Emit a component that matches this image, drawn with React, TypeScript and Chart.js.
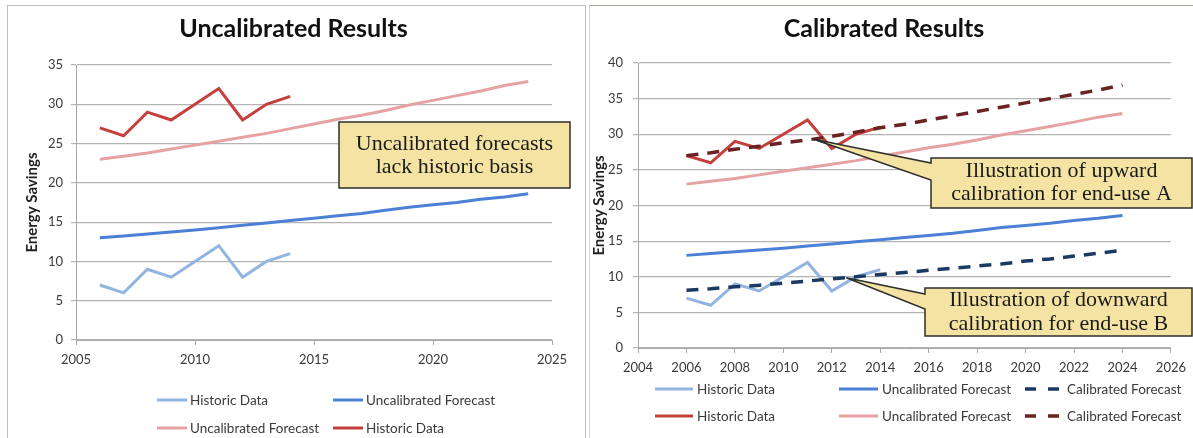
import React, { useEffect, useRef } from "react";
import { Chart, registerables } from "chart.js";

Chart.register(...registerables);

// ---------------- DATA ----------------
const historicYears = [2006, 2007, 2008, 2009, 2010, 2011, 2012, 2013, 2014];
const forecastYears = [
  2006, 2007, 2008, 2009, 2010, 2011, 2012, 2013, 2014, 2015,
  2016, 2017, 2018, 2019, 2020, 2021, 2022, 2023, 2024,
];

const historicA = [27, 26, 29, 28, 30, 32, 28, 30, 31];
const historicB = [7, 6, 9, 8, 10, 12, 8, 10, 11];

const uncalibratedA = [
  23.0, 23.4, 23.8, 24.3, 24.8, 25.3, 25.8, 26.3, 26.9, 27.5,
  28.1, 28.6, 29.2, 29.9, 30.5, 31.1, 31.7, 32.4, 32.9,
];
const uncalibratedB = [
  13.0, 13.25, 13.5, 13.75, 14.0, 14.3, 14.6, 14.9, 15.2, 15.5,
  15.8, 16.1, 16.5, 16.9, 17.2, 17.5, 17.9, 18.2, 18.6,
];
const calibratedA = [
  27.0, 27.4, 27.9, 28.3, 28.8, 29.2, 29.7, 30.3, 30.9, 31.4,
  32.0, 32.6, 33.2, 33.8, 34.4, 35.0, 35.6, 36.2, 36.9,
];
const calibratedB = [
  8.1, 8.3, 8.6, 8.8, 9.1, 9.4, 9.7, 10.0, 10.3, 10.6,
  10.9, 11.2, 11.5, 11.8, 12.2, 12.5, 12.9, 13.3, 13.7,
];

const leftXTicks = [2005, 2010, 2015, 2020, 2025];
const leftYTicks = [0, 5, 10, 15, 20, 25, 30, 35];
const rightXTicks = [2004, 2006, 2008, 2010, 2012, 2014, 2016, 2018, 2020, 2022, 2024, 2026];
const rightYTicks = [0, 5, 10, 15, 20, 25, 30, 35, 40];

const leftTitle = "Uncalibrated Results";
const rightTitle = "Calibrated Results";
const yAxisTitle = "Energy Savings";
const labelHistoric = "Historic Data";
const labelUncal = "Uncalibrated Forecast";
const labelCal = "Calibrated Forecast";

const leftNote = ["Uncalibrated forecasts", "lack historic basis"];
const upwardNote = ["Illustration of upward", "calibration for end-use A"];
const downwardNote = ["Illustration of downward", "calibration for end-use B"];
const upwardTip = [2011.25, 29.3];
const downwardTip = [2012.6, 9.85];

// ---------------- STYLE ----------------
const C = {
  histB: "#92b4e0",
  uncalB: "#4a80d6",
  calB: "#1b3a63",
  histA: "#c5403d",
  uncalA: "#e6a2a2",
  calA: "#6a2222",
  grid: "#b4b4b4",
  axis: "#a8a8a8",
  tick: "#3a3a3a",
  boxFill: "#f4e3a2",
  boxStroke: "#2e2e2e",
};
const SANS = "Lato, 'Open Sans', sans-serif";

type Series = { label: string; color: string; dashed?: boolean; xs: number[]; ys: number[] };

const toPoints = (xs: number[], ys: number[]) => xs.map((x, i) => ({ x, y: ys[i] }));

function makeDatasets(series: Series[]) {
  const n = series.length;
  return series.map((s, i) => ({
    label: s.label,
    data: toPoints(s.xs, s.ys),
    borderColor: s.color,
    backgroundColor: s.color,
    borderWidth: s.dashed ? 3.5 : 3,
    borderDash: s.dashed ? [12, 9] : [],
    pointRadius: 0,
    tension: 0,
    fill: false,
    order: n - i,
  }));
}

type Callout = {
  x1: number; y1: number; x2: number; y2: number;
  lines: string[]; baselines: number[];
  tip?: number[]; b1?: number; b2?: number;
};

function calloutPlugin(items: Callout[]) {
  return {
    id: "callouts",
    afterDraw(chart: any) {
      const ctx = chart.ctx as CanvasRenderingContext2D;
      const xs = chart.scales.x;
      const ys = chart.scales.y;
      for (const c of items) {
        ctx.save();
        ctx.beginPath();
        ctx.moveTo(c.x1, c.y1);
        ctx.lineTo(c.x2, c.y1);
        ctx.lineTo(c.x2, c.y2);
        ctx.lineTo(c.x1, c.y2);
        if (c.tip) {
          const tx = xs.getPixelForValue(c.tip[0]);
          const ty = ys.getPixelForValue(c.tip[1]);
          ctx.lineTo(c.x1, c.b2 as number);
          ctx.lineTo(tx, ty);
          ctx.lineTo(c.x1, c.b1 as number);
        }
        ctx.closePath();
        ctx.fillStyle = C.boxFill;
        ctx.fill();
        ctx.lineWidth = 1.5;
        ctx.strokeStyle = C.boxStroke;
        ctx.stroke();
        ctx.fillStyle = "#1a1a1a";
        ctx.font = "22px 'Liberation Serif', serif";
        ctx.textAlign = "center";
        ctx.textBaseline = "alphabetic";
        c.lines.forEach((t, i) => ctx.fillText(t, (c.x1 + c.x2) / 2, c.baselines[i]));
        ctx.restore();
      }
    },
  };
}

function makeConfig(opts: {
  series: Series[];
  xTicks: number[];
  yTicks: number[];
  padding: { left: number; right: number; top: number; bottom: number };
  yWidth: number;
  yTitlePad: number;
  yTickPad: number;
  callouts: Callout[];
}) {
  const { series, xTicks, yTicks } = opts;
  return {
    type: "line" as const,
    data: { datasets: makeDatasets(series) },
    plugins: [calloutPlugin(opts.callouts)],
    options: {
      animation: false as const,
      responsive: false,
      maintainAspectRatio: false,
      layout: { padding: opts.padding },
      plugins: {
        legend: { display: false },
        title: { display: false },
        tooltip: { enabled: false },
      },
      scales: {
        x: {
          type: "linear" as const,
          min: xTicks[0],
          max: xTicks[xTicks.length - 1],
          ticks: {
            stepSize: xTicks[1] - xTicks[0],
            callback: (v: any) => String(v),
            color: C.tick,
            font: { family: SANS, size: 13 },
            padding: 7,
            maxRotation: 0,
            autoSkip: false,
          },
          grid: { drawOnChartArea: false, drawTicks: true, tickLength: 5, color: C.axis },
          border: { color: C.axis, width: 1 },
          afterFit: (s: any) => { s.height = 30; },
        },
        y: {
          type: "linear" as const,
          min: yTicks[0],
          max: yTicks[yTicks.length - 1],
          ticks: {
            stepSize: yTicks[1] - yTicks[0],
            color: C.tick,
            font: { family: SANS, size: 13 },
            padding: opts.yTickPad,
          },
          grid: { color: C.grid, lineWidth: 1.2, tickLength: 5, drawTicks: true },
          border: { color: C.axis, width: 1 },
          title: {
            display: true,
            text: yAxisTitle,
            color: "#222",
            font: { family: SANS, size: 15, weight: "bold" as const },
            padding: { top: opts.yTitlePad, bottom: 0 },
          },
          afterFit: (s: any) => { s.width = opts.yWidth; },
        },
      },
    },
  };
}

const leftSeries: Series[] = [
  { label: labelHistoric, color: C.histB, xs: historicYears, ys: historicB },
  { label: labelUncal, color: C.uncalB, xs: forecastYears, ys: uncalibratedB },
  { label: labelUncal, color: C.uncalA, xs: forecastYears, ys: uncalibratedA },
  { label: labelHistoric, color: C.histA, xs: historicYears, ys: historicA },
];

const rightSeries: Series[] = [
  { label: labelHistoric, color: C.histB, xs: historicYears, ys: historicB },
  { label: labelUncal, color: C.uncalB, xs: forecastYears, ys: uncalibratedB },
  { label: labelCal, color: C.calB, dashed: true, xs: forecastYears, ys: calibratedB },
  { label: labelHistoric, color: C.histA, xs: historicYears, ys: historicA },
  { label: labelUncal, color: C.uncalA, xs: forecastYears, ys: uncalibratedA },
  { label: labelCal, color: C.calA, dashed: true, xs: forecastYears, ys: calibratedA },
];

function ChartCanvas(props: { config: any; left: number; width: number; height: number }) {
  const ref = useRef<HTMLCanvasElement | null>(null);
  useEffect(() => {
    if (!ref.current) return;
    const chart = new Chart(ref.current, props.config);
    return () => chart.destroy();
  }, []);
  return (
    <canvas
      ref={ref}
      width={props.width}
      height={props.height}
      style={{ position: "absolute", left: props.left, top: 0, width: props.width, height: props.height }}
    />
  );
}

function LegendItem(props: { s: Series; x: number; y: number; len: number; gap: number }) {
  const { s, x, y, len, gap } = props;
  return (
    <div
      style={{
        position: "absolute", left: x, top: y - 10, height: 20,
        display: "flex", alignItems: "center", whiteSpace: "nowrap",
      }}
    >
      <svg width={len} height={6} style={{ display: "block" }}>
        <line
          x1={0} y1={3} x2={len} y2={3}
          stroke={s.color} strokeWidth={s.dashed ? 3.5 : 3}
          strokeDasharray={s.dashed ? "11 12" : undefined}
        />
      </svg>
      <span style={{ marginLeft: gap, font: `13.5px ${SANS}`, color: "#3a3a3a" }}>{s.label}</span>
    </div>
  );
}

export default function App() {
  const leftConfig = makeConfig({
    series: leftSeries,
    xTicks: leftXTicks,
    yTicks: leftYTicks,
    padding: { left: 9, right: 38, top: 65, bottom: 68 },
    yWidth: 67,
    yTitlePad: 14,
    yTickPad: 8,
    callouts: [
      { x1: 339, y1: 122, x2: 570, y2: 188, lines: leftNote, baselines: [150, 173] },
    ],
  });
  const rightConfig = makeConfig({
    series: rightSeries,
    xTicks: rightXTicks,
    yTicks: rightYTicks,
    padding: { left: 0, right: 21, top: 63, bottom: 60 },
    yWidth: 48,
    yTitlePad: 0,
    yTickPad: 10,
    callouts: [
      { x1: 341, y1: 158, x2: 602, y2: 208, lines: upwardNote, baselines: [177, 200], tip: upwardTip, b1: 163, b2: 180 },
      { x1: 335, y1: 288, x2: 602, y2: 336, lines: downwardNote, baselines: [306, 330], tip: downwardTip, b1: 294, b2: 309 },
    ],
  });

  const leftLegendPos = [
    { x: 157, y: 400 }, { x: 333, y: 400 },
    { x: 157, y: 428 }, { x: 333, y: 428 },
  ];
  const rightLegendCols = [
    { x: 655, len: 38, gap: 4 }, { x: 839, len: 39, gap: 4 }, { x: 1025, len: 34, gap: 8 },
  ];
  const rightLegendRows = [389, 416];
  const rightLegendOrder = [0, 1, 2, 3, 4, 5];

  return (
    <div style={{ position: "fixed", left: 0, top: 0, width: 1193, height: 438, background: "#fff", overflow: "hidden" }}>
      <div style={{ position: "absolute", left: 7, top: 5, width: 577, height: 450, border: "1.5px solid #bdbdbd" }} />
      <div style={{ position: "absolute", left: 589, top: 5, width: 610, height: 450, borderTop: "1.5px solid #a9a39c", borderLeft: "1px solid #d4d4d4" }} />

      <ChartCanvas config={leftConfig} left={0} width={590} height={438} />
      <ChartCanvas config={rightConfig} left={590} width={603} height={438} />

      <div style={{ position: "absolute", left: 0, top: 12, width: 587, textAlign: "center", font: `bold 25px ${SANS}`, lineHeight: "30px", color: "#111" }}>
        {leftTitle}
      </div>
      <div style={{ position: "absolute", left: 590, top: 12, width: 588, textAlign: "center", font: `bold 25px ${SANS}`, lineHeight: "30px", color: "#111" }}>
        {rightTitle}
      </div>

      {leftSeries.map((s, i) => (
        <LegendItem key={"l" + i} s={s} x={leftLegendPos[i].x} y={leftLegendPos[i].y} len={30} gap={3} />
      ))}
      {rightLegendOrder.map((idx) => {
        const col = rightLegendCols[idx % 3];
        const row = rightLegendRows[Math.floor(idx / 3)];
        return <LegendItem key={"r" + idx} s={rightSeries[idx]} x={col.x} y={row} len={col.len} gap={col.gap} />;
      })}
    </div>
  );
}
